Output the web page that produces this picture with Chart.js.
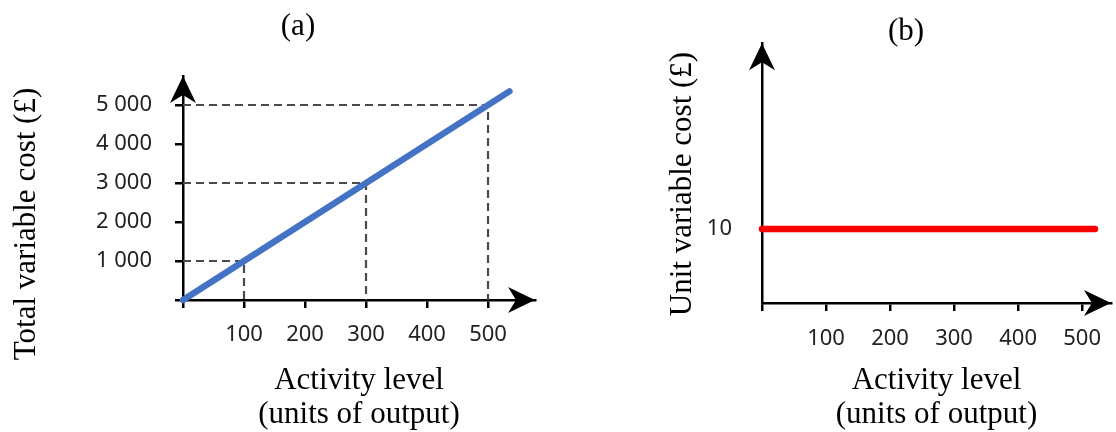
<!DOCTYPE html>
<html>
<head>
<meta charset="utf-8">
<script src="https://cdn.jsdelivr.net/npm/chart.js@4.4.1/dist/chart.umd.min.js"></script>
<style>
  html, body { margin: 0; padding: 0; background: #fff; }
  #wrap { position: relative; width: 1116px; height: 432px; overflow: hidden; }
  canvas { position: absolute; top: 0; }
  #costA { left: 0; }
  #costB { left: 560px; }
</style>
</head>
<body>
<div id="wrap">
  <canvas id="costA" width="560" height="432"></canvas>
  <canvas id="costB" width="556" height="432"></canvas>
</div>
<script>
// (a) total variable cost against activity
const activityA = [0, 535];
const totalCost = [0, 5350];
const guideActivity = [100, 300, 500];
const guideCost = [1000, 3000, 5000];
const xTicksA = [0, 100, 200, 300, 400, 500];
const xLabelsA = ['', '100', '200', '300', '400', '500'];
const yTicksA = [0, 1000, 2000, 3000, 4000, 5000];
const yLabelsA = ['', '1 000', '2 000', '3 000', '4 000', '5 000'];

// (b) unit variable cost against activity
const activityB = [0, 520];
const unitCost = [10, 10];
const xTicksB = [0, 100, 200, 300, 400, 500];
const xLabelsB = ['', '100', '200', '300', '400', '500'];
const yTicksB = [10];
const yLabelsB = ['10'];

const serif = "'Liberation Serif', 'Times New Roman', serif";
const sans = "'Noto Sans', 'Open Sans', sans-serif";

function arrowHead(ctx, x, y, up) {
  const len = 27, half = 13, notch = 8;
  ctx.save();
  ctx.translate(x, y);
  if (up) ctx.rotate(-Math.PI / 2);
  ctx.beginPath();
  ctx.moveTo(0, 0);
  ctx.lineTo(-len, -half);
  ctx.lineTo(-len + notch, 0);
  ctx.lineTo(-len, half);
  ctx.closePath();
  ctx.fillStyle = '#000';
  ctx.fill();
  ctx.restore();
}

// arrows on the axes, panel letter and the rotated y title
const decorations = {
  id: 'decorations',
  afterDraw(chart, args, opts) {
    const { ctx, chartArea: a } = chart;
    arrowHead(ctx, a.left, a.top, true);
    arrowHead(ctx, a.right, a.bottom, false);
    ctx.save();
    ctx.fillStyle = '#000';
    ctx.font = '31px ' + serif;
    ctx.textAlign = 'center';
    ctx.textBaseline = 'middle';
    ctx.fillText(opts.panel, opts.panelX, opts.panelY);
    ctx.translate(opts.yTitleX, opts.yTitleY);
    ctx.rotate(-Math.PI / 2);
    ctx.fillText(opts.yTitle, 0, 0);
    ctx.restore();
  }
};

function xAxis(max, height, ticks, labels, pad) {
  return {
    type: 'linear', min: 0, max: max, bounds: 'data',
    afterBuildTicks: s => { s.ticks = ticks.map(v => ({ value: v })); },
    afterFit: s => { s.height = height; },
    grid: { drawOnChartArea: false, drawTicks: true, tickLength: 8, color: '#000', lineWidth: 2.5 },
    border: { color: '#000', width: 2.5 },
    ticks: {
      callback: (v, i) => labels[i], color: '#222', padding: pad,
      font: { family: sans, size: 22 }, maxRotation: 0, autoSkip: false
    },
    title: {
      display: true, text: ['Activity level', '(units of output)'], color: '#000',
      font: { family: serif, size: 31, lineHeight: 1.07 }, padding: { top: 0, bottom: 1 }
    }
  };
}

function yAxis(max, width, ticks, labels, tickMarks, pad) {
  return {
    type: 'linear', min: 0, max: max, bounds: 'data',
    afterBuildTicks: s => { s.ticks = ticks.map(v => ({ value: v })); },
    afterFit: s => { s.width = width; },
    grid: { drawOnChartArea: false, drawTicks: tickMarks, tickLength: 8, color: '#000', lineWidth: 2.5 },
    border: { color: '#000', width: 2.5 },
    ticks: {
      callback: (v, i) => labels[i], color: '#222', padding: pad,
      font: { family: sans, size: 22 }
    }
  };
}

new Chart(document.getElementById('costA'), {
  type: 'line',
  data: {
    datasets: [
      {
        data: activityA.map((x, i) => ({ x: x, y: totalCost[i] })),
        borderColor: '#4472C4', borderWidth: 6.5, borderCapStyle: 'round',
        pointRadius: 0, clip: false
      },
      ...guideActivity.map((gx, i) => ({
        data: [{ x: 0, y: guideCost[i] }, { x: gx, y: guideCost[i] }, { x: gx, y: 0 }],
        borderColor: '#4a4a4a', borderWidth: 2.2, borderDash: [8, 5], pointRadius: 0
      }))
    ]
  },
  options: {
    responsive: false,
    animation: false,
    devicePixelRatio: 1,
    layout: { padding: { top: 76, right: 25, left: 0, bottom: 0 } },
    scales: {
      x: xAxis(577, 132, xTicksA, xLabelsA, 14),
      y: yAxis(5744, 183, yTicksA, yLabelsA, true, 23)
    },
    plugins: {
      legend: { display: false },
      tooltip: { enabled: false },
      decorations: {
        panel: '(a)', panelX: 298, panelY: 27,
        yTitle: 'Total variable cost (£)', yTitleX: 27, yTitleY: 224
      }
    }
  },
  plugins: [decorations]
});

new Chart(document.getElementById('costB'), {
  type: 'line',
  data: {
    datasets: [
      {
        data: activityB.map((x, i) => ({ x: x, y: unitCost[i] })),
        borderColor: '#FF0000', borderWidth: 6.5, borderCapStyle: 'round',
        pointRadius: 0, clip: false
      }
    ]
  },
  options: {
    responsive: false,
    animation: false,
    devicePixelRatio: 1,
    layout: { padding: { top: 33, right: 0, left: 0, bottom: 0 } },
    scales: {
      x: xAxis(545, 129, xTicksB, xLabelsB, 15),
      y: yAxis(35.06, 202, yTicksB, yLabelsB, false, 30)
    },
    plugins: {
      legend: { display: false },
      tooltip: { enabled: false },
      decorations: {
        panel: '(b)', panelX: 346, panelY: 32,
        yTitle: 'Unit variable cost (£)', yTitleX: 123, yTitleY: 184
      }
    }
  },
  plugins: [decorations]
});
</script>
</body>
</html>
